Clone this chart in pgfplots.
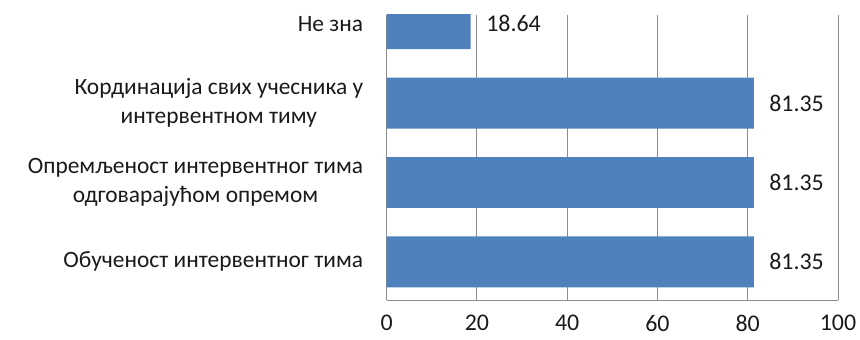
\documentclass[border=0pt]{standalone}
\usepackage{pgfplots}
\pgfplotsset{compat=1.18}
\usepackage{fontspec}
\setmainfont{Carlito}
\definecolor{barblue}{HTML}{4F81BD}
\definecolor{gridgray}{HTML}{8C8C8C}
\definecolor{txt}{HTML}{1A1A1A}
\begin{document}
\begin{tikzpicture}
\begin{axis}[
  at={(0,0)}, anchor=south west,
  scale only axis,
  width=451.4bp, height=285bp,
  xbar, bar width=0.64,
  xmin=0, xmax=100, ymin=-0.48, ymax=3.11,
  xtick={0,20,40,60,80,100},
  ytick={0,1,2,3},
  yticklabels={{Обученост интервентног тима},{Опремљеност интервентног тима\\одговарајућом опремом},{Кординација свих учесника у\\интервентном тиму},{Не зна}},
  yticklabel style={align=center, font=\fontsize{23.5}{29}\selectfont, text=txt, xshift=-20bp},
  xticklabel style={font=\fontsize{24}{29}\selectfont, text=txt, yshift=-14bp, inner sep=1bp},
  /pgf/number format/assume math mode=true,
  xmajorgrids, grid style={gridgray, line width=0.8pt},
  axis x line*=bottom, axis y line*=left,
  axis line style={gridgray, line width=0.8pt},
  major tick length=0pt,
  nodes near coords,
  nodes near coords style={anchor=west, xshift=12bp, font=\fontsize{24}{29}\selectfont, text=txt, /pgf/number format/.cd, fixed, precision=2, fixed zerofill},
]
\addplot[fill=barblue, draw=none] coordinates {(81.35,0) (81.35,1) (81.35,2) (18.64,3)};
\end{axis}
\path (-386.6bp,-40bp) rectangle (473.4bp,300bp);
\end{tikzpicture}
\end{document}
